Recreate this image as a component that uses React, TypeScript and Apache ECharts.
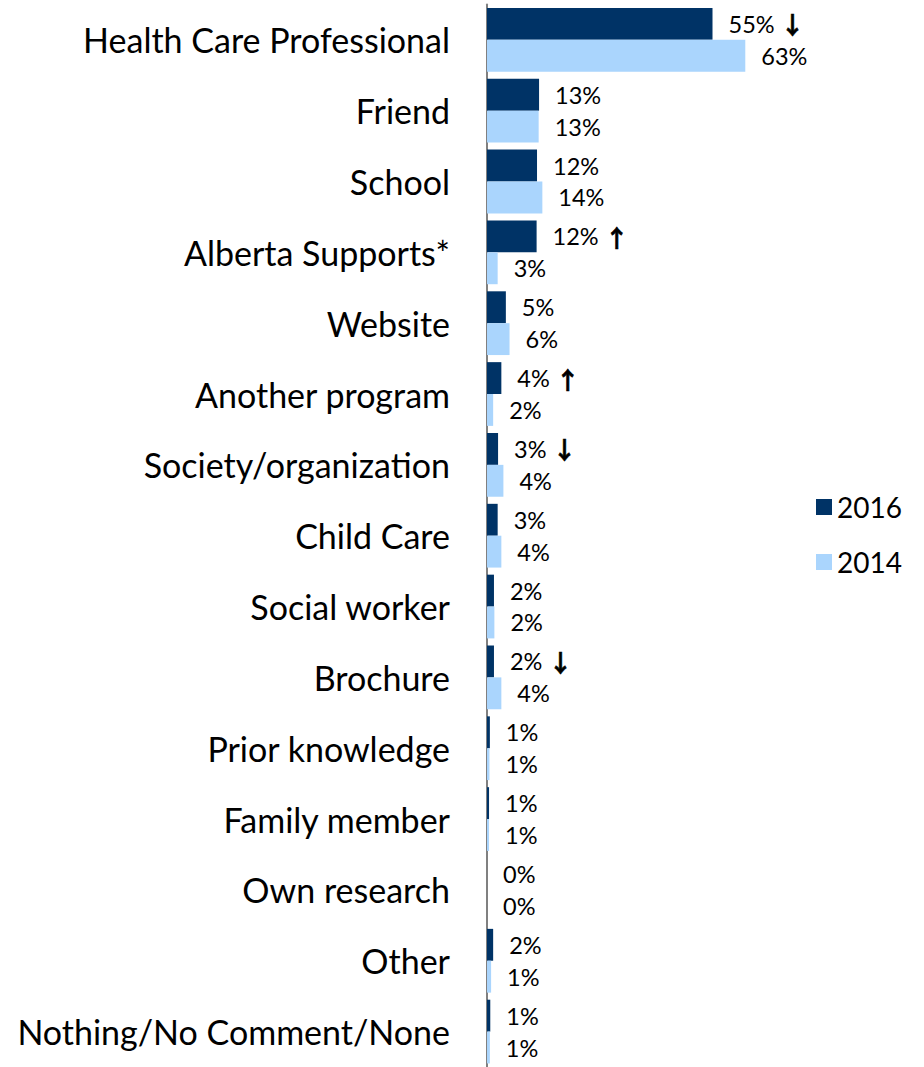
import React, { useEffect, useRef } from "react";
import * as echarts from "echarts";

const categories = [
  "Health Care Professional",
  "Friend",
  "School",
  "Alberta Supports*",
  "Website",
  "Another program",
  "Society/organization",
  "Child Care",
  "Social worker",
  "Brochure",
  "Prior knowledge",
  "Family member",
  "Own research",
  "Other",
  "Nothing/No Comment/None",
];

// bar lengths as drawn (percent)
const values2016 = [55, 12.7, 12.2, 12.1, 4.6, 3.5, 2.7, 2.6, 1.7, 1.7, 0.7, 0.5, 0, 1.5, 0.8];
const values2014 = [63, 12.6, 13.5, 2.6, 5.5, 1.5, 4, 3.5, 1.8, 3.5, 0.6, 0.5, 0, 1, 0.7];

// significance markers for 2016 vs 2014
const change2016 = ["down", "", "", "up", "", "up", "down", "", "", "down", "", "", "", "", ""];

const seriesNames = ["2016", "2014"];
const colors = ["#003366", "#aad5fd"];

const FONT = "Lato";

export default function App() {
  const ref = useRef<HTMLDivElement>(null);
  useEffect(() => {
    const chart = echarts.init(ref.current!, undefined, { renderer: "svg" });
    const arrow = (m: string) => (m === "up" ? " {a|↑}" : m === "down" ? " {a|↓}" : "");
    const labelRich = {
      a: {
        fontFamily: "Noto Sans CJK SC",
        fontWeight: "bold",
        fontSize: 24,
        color: "#000",
        textBorderColor: "#000",
        textBorderWidth: 0.6,
      },
    };
    chart.setOption({
      animation: false,
      textStyle: { fontFamily: FONT },
      legend: {
        orient: "vertical",
        left: 816,
        top: 493,
        padding: 0,
        itemWidth: 16,
        itemHeight: 16,
        itemGap: 27,
        icon: "rect",
        data: seriesNames,
        textStyle: { fontFamily: FONT, fontSize: 28, color: "#000", lineHeight: 28 },
      },
      grid: { left: 487, top: 4.4, width: 410, height: 1068.2 },
      xAxis: { type: "value", min: 0, max: 100, show: false },
      yAxis: {
        type: "category",
        inverse: true,
        data: categories,
        axisLine: { show: true, lineStyle: { color: "#808080", width: 2 } },
        axisTick: { show: false },
        axisLabel: { fontFamily: FONT, fontSize: 34, color: "#000", margin: 37 },
      },
      series: [
        {
          name: seriesNames[0],
          type: "bar",
          data: values2016,
          barGap: "0%",
          barCategoryGap: "10%",
          itemStyle: { color: colors[0] },
          label: {
            show: true,
            position: "right",
            distance: 16,
            fontFamily: FONT,
            fontSize: 23.5,
            color: "#000",
            formatter: (p: any) => `${Math.round(p.value)}%` + arrow(change2016[p.dataIndex]),
            rich: labelRich,
          },
        },
        {
          name: seriesNames[1],
          type: "bar",
          data: values2014,
          barGap: "0%",
          barCategoryGap: "10%",
          itemStyle: { color: colors[1] },
          label: {
            show: true,
            position: "right",
            distance: 16,
            fontFamily: FONT,
            fontSize: 23.5,
            color: "#000",
            formatter: (p: any) => `${Math.round(p.value)}%`,
          },
        },
      ],
    });
    return () => chart.dispose();
  }, []);
  return (
    <div
      ref={ref}
      style={{ position: "fixed", left: 0, top: 0, width: 924, height: 1067, background: "#fff" }}
    />
  );
}
